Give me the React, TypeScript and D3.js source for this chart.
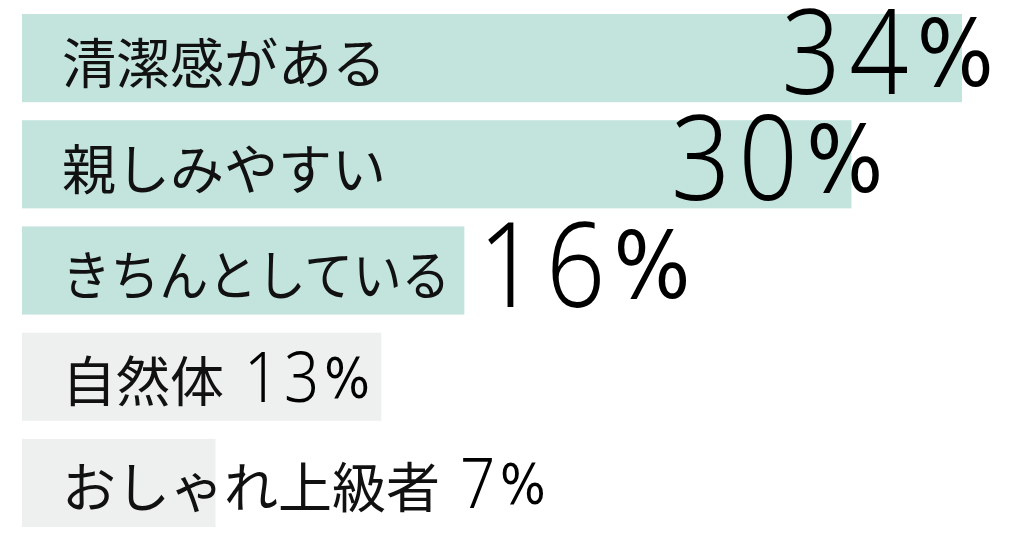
import React from 'react';
import * as d3 from 'd3';

const categories = ['清潔感がある', '親しみやすい', 'きちんとしている', '自然体', 'おしゃれ上級者'];
const percents = [34, 30, 16, 13, 7];
const highlightCount = 3;

const width = 1024;
const height = 536;
const margin = { top: 14, right: 62, bottom: 9, left: 22 };
const labelSize = 54;
const bigSize = 118;
const smallSize = 70;
const squeeze = 0.88;

const App: React.FC = () => {
    const x = d3.scaleLinear()
        .domain([0, d3.max(percents) as number])
        .range([margin.left, width - margin.right]);

    const y = d3.scaleBand()
        .domain(categories)
        .range([margin.top, height - margin.bottom])
        .paddingInner(0.17);

    const fontJP = '"Noto Sans CJK JP", "Noto Sans", sans-serif';
    const fontNum = '"Noto Sans", "DejaVu Sans", sans-serif';

    return (
        <svg width={width} height={height}
            style={{ position: 'absolute', left: 0, top: 0, background: '#fff' }}>
            {categories.map((c, i) => {
                const v = percents[i];
                const top = y(c) as number;
                const mid = top + y.bandwidth() / 2;
                const big = i < highlightCount;
                const labelX = margin.left + 40;
                const naturalW = c.length * labelSize;
                // squeeze a long label so it stays inside its bar
                const room = x(v) - labelX - 14;
                const fit = big && naturalW > room ? room : undefined;
                let numX: number;
                let anchor: 'start' | 'end' = 'start';
                if (big && x(v) - labelX > naturalW + 200) {
                    numX = x(v) + 40;
                    anchor = 'end';
                } else if (big) {
                    numX = x(v) + 14;
                } else {
                    numX = labelX + naturalW + 20;
                }
                const size = big ? bigSize : smallSize;
                const numY = big ? mid + 36 : mid + 25;
                return (
                    <g key={c}>
                        <rect x={x(0)} y={top} width={x(v) - x(0)} height={y.bandwidth()}
                            fill={big ? '#c3e4dd' : '#eef0ef'} />
                        <text x={labelX} y={mid + 2} dominantBaseline="central"
                            textLength={fit} lengthAdjust={fit ? 'spacingAndGlyphs' : undefined}
                            fontFamily={fontJP} fontSize={labelSize} fill="#111">{c}</text>
                        <text transform={`translate(${numX},${numY}) scale(${squeeze},1)`}
                            textAnchor={anchor} fontFamily={fontNum} fontWeight={300}
                            letterSpacing={size * 0.08} fontSize={size} fill="#000">
                            {v}<tspan fontFamily='"DejaVu Sans", sans-serif' fontWeight={400}
                                fontSize={size * 0.78} dy={-size * 0.07}>%</tspan>
                        </text>
                    </g>
                );
            })}
        </svg>
    );
};

export default App;
